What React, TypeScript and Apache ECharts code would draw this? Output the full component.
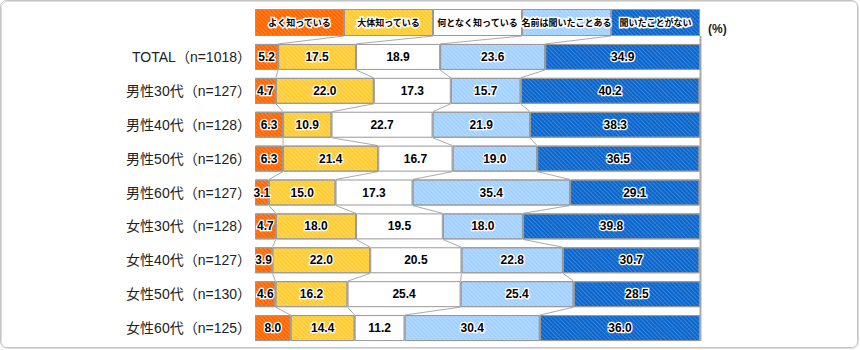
import React, { useEffect, useRef } from "react";
import * as echarts from "echarts";

const categories = [
  "TOTAL（n=1018）",
  "男性30代（n=127）",
  "男性40代（n=128）",
  "男性50代（n=126）",
  "男性60代（n=127）",
  "女性30代（n=128）",
  "女性40代（n=127）",
  "女性50代（n=130）",
  "女性60代（n=125）",
];
const seriesNames = ["よく知っている", "大体知っている", "何となく知っている", "名前は聞いたことある", "聞いたことがない"];
const wellKnown = [5.2, 4.7, 6.3, 6.3, 3.1, 4.7, 3.9, 4.6, 8.0];
const mostlyKnown = [17.5, 22.0, 10.9, 21.4, 15.0, 18.0, 22.0, 16.2, 14.4];
const somewhatKnown = [18.9, 17.3, 22.7, 16.7, 17.3, 19.5, 20.5, 25.4, 11.2];
const heardName = [23.6, 15.7, 21.9, 19.0, 35.4, 18.0, 22.8, 25.4, 30.4];
const neverHeard = [34.9, 40.2, 38.3, 36.5, 29.1, 39.8, 30.7, 28.5, 36.0];
const legendShares = [20, 20, 20, 20, 20];

const colors = ["#FF6600", "#FFCC33", "#FFFFFF", "#A3D1FF", "#0A66CC"];
const BAR = 26;
const LEG_TOP = 9;
const LEG_H = 27;
const FONT = "'Liberation Sans', Arial, 'Noto Sans CJK JP', sans-serif";

export default function App() {
  const ref = useRef<HTMLDivElement>(null);
  useEffect(() => {
    if (!ref.current) return;
    const chart = echarts.init(ref.current, null, { renderer: "svg" });
    const all = [wellKnown, mostlyKnown, somewhatKnown, heardName, neverHeard];
    const cum = categories.map((_, i) => {
      const c = [0];
      for (let k = 0; k < 5; k++) c.push(c[k] + all[k][i]);
      return c;
    });
    const decal = (c: string) =>
      c === "#FFFFFF"
        ? undefined
        : {
            symbol: "rect",
            symbolSize: 1,
            dashArrayX: [1, 0],
            dashArrayY: [1, 2],
            rotation: Math.PI / 4,
            color: "rgba(255,255,255,0.2)",
          };
    const labelStyle = {
      show: true,
      position: "inside",
      color: "#000",
      fontWeight: "bold",
      fontFamily: FONT,
      textBorderColor: "#fff",
      textBorderWidth: 2.5,
    };
    const mainSeries: any[] = all.map((arr, k) => ({
      type: "bar",
      name: seriesNames[k],
      stack: "a",
      xAxisIndex: 0,
      yAxisIndex: 0,
      barWidth: BAR,
      data: arr,
      itemStyle: { color: colors[k], borderColor: "#999", borderWidth: 1, decal: decal(colors[k]) },
      label: { ...labelStyle, fontSize: 12, formatter: (p: any) => p.value.toFixed(1) },
    }));
    const legendSeries: any[] = legendShares.map((v, k) => ({
      type: "bar",
      name: seriesNames[k] + " ",
      stack: "l",
      xAxisIndex: 1,
      yAxisIndex: 1,
      barWidth: LEG_H,
      data: [v],
      itemStyle: { color: colors[k], borderColor: "#999", borderWidth: 1, decal: decal(colors[k]) },
      label: {
        ...labelStyle,
        fontSize: 9,
        fontFamily: "'Noto Sans CJK JP', sans-serif",
        textBorderWidth: 3,
        formatter: () => seriesNames[k],
      },
    }));
    const connectors = {
      type: "custom",
      xAxisIndex: 0,
      yAxisIndex: 0,
      silent: true,
      clip: false,
      data: categories.slice(0, -1).map((_, i) => [0, i]),
      renderItem: (params: any, api: any) => {
        const i = params.dataIndex;
        const children: any[] = [];
        for (let k = 1; k <= 4; k++) {
          const a = api.coord([cum[i][k], i]);
          const b = api.coord([cum[i + 1][k], i + 1]);
          children.push({
            type: "line",
            shape: { x1: a[0], y1: a[1] + BAR / 2, x2: b[0], y2: b[1] - BAR / 2 },
            style: { stroke: "#aaa", lineWidth: 1 },
          });
        }
        return { type: "group", children };
      },
    };
    const topConnectors = {
      type: "custom",
      xAxisIndex: 0,
      yAxisIndex: 0,
      silent: true,
      clip: false,
      data: [[0, 0]],
      renderItem: (params: any, api: any) => {
        const children: any[] = [];
        const legBottom = LEG_TOP + LEG_H;
        let acc = 0;
        for (let k = 1; k <= 4; k++) {
          acc += legendShares[k - 1];
          const a = api.coord([acc, 0]);
          const b = api.coord([cum[0][k], 0]);
          children.push({
            type: "line",
            shape: { x1: a[0], y1: legBottom, x2: b[0], y2: b[1] - BAR / 2 },
            style: { stroke: "#aaa", lineWidth: 1 },
          });
        }
        const r0 = api.coord([100, 0]);
        const r1 = api.coord([100, categories.length - 1]);
        children.push({
          type: "line",
          shape: { x1: r0[0] + 0.5, y1: legBottom, x2: r1[0] + 0.5, y2: r1[1] + BAR / 2 },
          style: { stroke: "#aaa", lineWidth: 2 },
        });
        return { type: "group", children };
      },
    };
    chart.setOption({
      animation: false,
      backgroundColor: "#fff",
      grid: [
        { left: 255, right: 160, top: 40, bottom: 5 },
        { left: 255, right: 160, top: LEG_TOP, height: LEG_H },
      ],
      xAxis: [
        { type: "value", gridIndex: 0, min: 0, max: 100, show: false },
        { type: "value", gridIndex: 1, min: 0, max: 100, show: false },
      ],
      yAxis: [
        {
          type: "category",
          gridIndex: 0,
          inverse: true,
          data: categories,
          axisLine: { show: false },
          axisTick: { show: false },
          axisLabel: { margin: 4, fontSize: 14, color: "#222", fontFamily: FONT },
        },
        { type: "category", gridIndex: 1, data: [""], show: false },
      ],
      graphic: [
        {
          type: "rect",
          shape: { x: 1.5, y: 1.5, width: 857, height: 347, r: 6 },
          style: { fill: "none", stroke: "#ddd", lineWidth: 1 },
          silent: true,
        },
        {
          type: "rect",
          shape: { x: 0.5, y: 0.5, width: 857, height: 347, r: 6 },
          style: { fill: "none", stroke: "#c4c4c4", lineWidth: 1 },
          silent: true,
        },
        {
          type: "text",
          left: 708,
          top: 23,
          style: { text: "(%)", fontSize: 12, fontWeight: "bold", fill: "#222", fontFamily: FONT },
        },
      ],
      series: [...mainSeries, ...legendSeries, connectors, topConnectors],
    });
    return () => chart.dispose();
  }, []);
  return <div ref={ref} style={{ position: "fixed", left: 0, top: 0, width: 860, height: 350 }} />;
}
